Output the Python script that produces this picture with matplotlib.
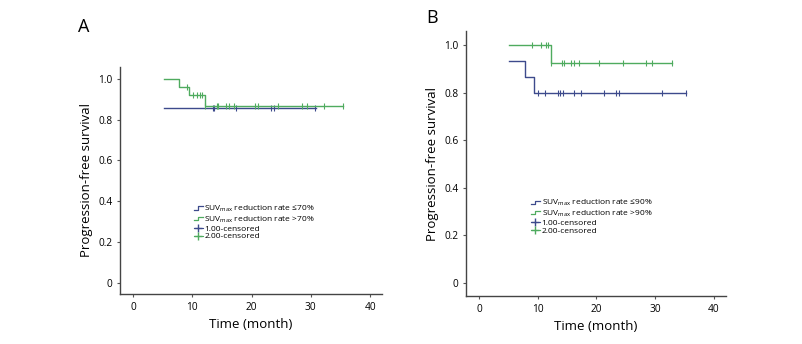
import matplotlib.pyplot as plt
import numpy as np
from matplotlib.legend_handler import HandlerBase
from matplotlib.lines import Line2D

plt.rcParams['font.family'] = ['Open Sans', 'DejaVu Sans']

BLUE = '#3d4a8c'
GREEN = '#4fab5f'

# --- Panel A: SUVmax reduction rate <=70% vs >70% ---
a_low_steps_t = [5.2, 30.9]
a_low_steps_s = [0.857, 0.857]
a_low_cens_t = [13.5, 13.7, 17.3, 23.3, 23.7, 30.7]

a_high_steps_t = [5.2, 7.7, 9.4, 12.1, 35.4]
a_high_steps_s = [1.0, 0.96, 0.92, 0.865, 0.865]
a_high_cens_t = [9.1, 10.1, 10.8, 11.3, 11.7, 12.1, 14.2, 14.4, 15.7, 16.2, 17.0,
                 20.5, 21.1, 24.4, 28.5, 29.3, 32.3, 35.4]

# --- Panel B: SUVmax reduction rate <=90% vs >90% ---
b_low_steps_t = [5.1, 7.8, 9.3, 35.3]
b_low_steps_s = [0.933, 0.867, 0.8, 0.8]
b_low_cens_t = [10.1, 11.3, 13.5, 13.8, 14.3, 16.2, 17.4, 21.2, 23.3, 23.8, 31.1, 35.3]

b_high_steps_t = [5.1, 12.2, 32.8]
b_high_steps_s = [1.0, 0.923, 0.923]
b_high_cens_t = [9.1, 10.6, 11.4, 11.8, 12.2, 14.2, 14.4, 15.7, 16.1, 17.0, 20.4,
                 24.5, 28.5, 29.4, 32.8]

yticks = [0, 0.2, 0.4, 0.6, 0.8, 1.0]
ytick_labels = ['0', '0.2', '0.4', '0.6', '0.8', '1.0']
xticks = [0, 10, 20, 30, 40]


class StepHandler(HandlerBase):
    def create_artists(self, legend, orig_handle, xd, yd, w, h, fontsize, trans):
        xs = np.array([0, 0.45, 0.45, 1.0]) * w - xd
        ys = np.array([0.2, 0.2, 0.75, 0.75]) * h - yd
        ln = Line2D(xs, ys, color=orig_handle.get_color(), lw=0.9, transform=trans)
        return [ln]


def surv_at(ts, ss, t):
    idx = np.searchsorted(ts, t, side='right') - 1
    return ss[max(idx, 0)]


def draw_panel(ax, groups, thr):
    for ts, ss, cens, col in groups:
        ax.step(ts, ss, where='post', color=col, lw=1.0)
        cy = [surv_at(ts, ss, c) for c in cens]
        ax.plot(cens, cy, ls='none', marker='|', ms=4, mew=0.8, color=col)
    ax.set_xlim(-2.2, 42)
    ax.set_ylim(-0.055, 1.058)
    ax.set_xticks(xticks)
    ax.set_yticks(yticks)
    ax.set_yticklabels(ytick_labels)
    ax.tick_params(labelsize=7.3, length=2, width=0.8, color='#555555')
    for s in ['top', 'right']:
        ax.spines[s].set_visible(False)
    for s in ['left', 'bottom']:
        ax.spines[s].set_linewidth(1.0)
        ax.spines[s].set_color('#444444')
    ax.set_xlabel('Time (month)', fontsize=9.5)
    ax.set_ylabel('Progression-free survival', fontsize=9.5)

    handles = [Line2D([], [], color=BLUE), Line2D([], [], color=GREEN),
               Line2D([], [], color=BLUE, marker='+', ms=6, ls='-', lw=0.8),
               Line2D([], [], color=GREEN, marker='+', ms=6, ls='-', lw=0.8)]
    labels = [r'SUV$_{\mathregular{max}}$ reduction rate ≤' + thr,
              r'SUV$_{\mathregular{max}}$ reduction rate >' + thr,
              '1.00-censored', '2.00-censored']
    return handles, labels


fig = plt.figure(figsize=(8.02, 3.44), dpi=100)
axA = fig.add_axes([0.1496, 0.1453, 0.3267, 0.66])
axB = fig.add_axes([0.581, 0.1395, 0.324, 0.770])

h, l = draw_panel(axA, [(a_low_steps_t, a_low_steps_s, a_low_cens_t, BLUE),
                        (a_high_steps_t, a_high_steps_s, a_high_cens_t, GREEN)], '70%')
axA.legend(h, l, handler_map={h[0]: StepHandler(), h[1]: StepHandler()},
           loc='upper left', bbox_to_anchor=(0.265, 0.42), frameon=False, fontsize=6,
           handlelength=1.1, handletextpad=0.2, labelspacing=0.0, borderpad=0)

h, l = draw_panel(axB, [(b_low_steps_t, b_low_steps_s, b_low_cens_t, BLUE),
                        (b_high_steps_t, b_high_steps_s, b_high_cens_t, GREEN)], '90%')
axB.legend(h, l, handler_map={h[0]: StepHandler(), h[1]: StepHandler()},
           loc='upper left', bbox_to_anchor=(0.233, 0.39), frameon=False, fontsize=6,
           handlelength=1.1, handletextpad=0.2, labelspacing=0.0, borderpad=0)

fig.text(78 / 802, 1 - 27 / 344, 'A', fontsize=13, ha='left', va='center')
fig.text(426 / 802, 1 - 18 / 344, 'B', fontsize=13, ha='left', va='center')

fig.savefig('out.png', dpi=100)
